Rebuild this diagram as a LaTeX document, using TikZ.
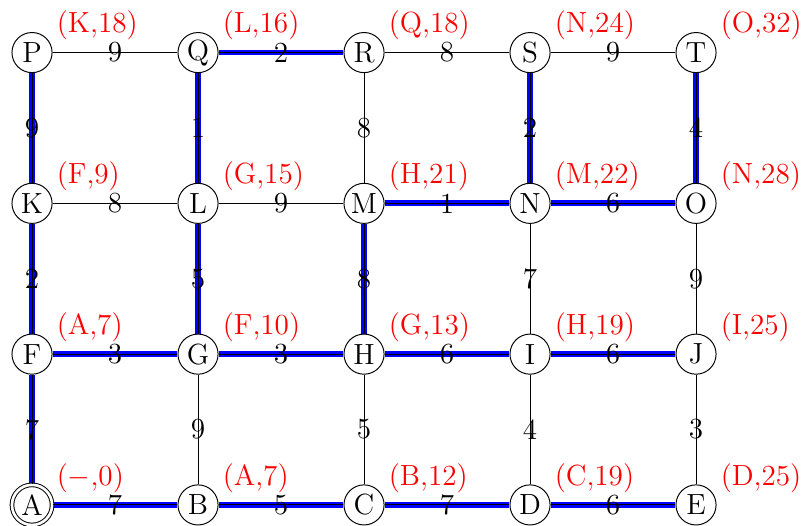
\documentclass[tikz,border=0pt]{standalone}
\usetikzlibrary{positioning, backgrounds}

\begin{document}
\begin{tikzpicture}[
    vertex/.style={draw, circle, thin, fill=white, minimum size=0.58cm, inner sep=0.5pt, font=\large},
    start/.style={vertex, double, double distance=1.1pt},
    weight/.style={inner sep=0pt, font=\large},
    dist/.style={anchor=south west, inner sep=2pt, xshift=2pt, yshift=-3pt, text=red, font=\large},
    tree/.style={line width=2.4pt, blue}
]
\useasboundingbox (-0.463, -0.304) rectangle (11.19, 7.30);

% -------------------------
% Vertices (bottom row to top row)
% -------------------------
\node[start]  (A) at (0, 0) {A};
\node[vertex] (B) at (2.4, 0) {B};
\node[vertex] (C) at (4.8, 0) {C};
\node[vertex] (D) at (7.2, 0) {D};
\node[vertex] (E) at (9.6, 0) {E};

\node[vertex] (F) at (0, 2.18) {F};
\node[vertex] (G) at (2.4, 2.18) {G};
\node[vertex] (H) at (4.8, 2.18) {H};
\node[vertex] (I) at (7.2, 2.18) {I};
\node[vertex] (J) at (9.6, 2.18) {J};

\node[vertex] (K) at (0, 4.36) {K};
\node[vertex] (L) at (2.4, 4.36) {L};
\node[vertex] (M) at (4.8, 4.36) {M};
\node[vertex] (N) at (7.2, 4.36) {N};
\node[vertex] (O) at (9.6, 4.36) {O};

\node[vertex] (P) at (0, 6.54) {P};
\node[vertex] (Q) at (2.4, 6.54) {Q};
\node[vertex] (R) at (4.8, 6.54) {R};
\node[vertex] (S) at (7.2, 6.54) {S};
\node[vertex] (T) at (9.6, 6.54) {T};

% -------------------------
% Shortest Path Tree (highlight)
% -------------------------
\begin{scope}[on background layer]
    \draw[tree] (A) -- (B);
    \draw[tree] (B) -- (C);
    \draw[tree] (C) -- (D);
    \draw[tree] (D) -- (E);
    \draw[tree] (F) -- (G);
    \draw[tree] (G) -- (H);
    \draw[tree] (H) -- (I);
    \draw[tree] (I) -- (J);
    \draw[tree] (M) -- (N);
    \draw[tree] (N) -- (O);
    \draw[tree] (Q) -- (R);
    \draw[tree] (A) -- (F);
    \draw[tree] (F) -- (K);
    \draw[tree] (K) -- (P);
    \draw[tree] (G) -- (L);
    \draw[tree] (L) -- (Q);
    \draw[tree] (H) -- (M);
    \draw[tree] (N) -- (S);
    \draw[tree] (O) -- (T);
\end{scope}

% -------------------------
% Horizontal Edges
% -------------------------
\draw[thin] (A) -- node[weight] {7} (B);
\draw[thin] (B) -- node[weight] {5} (C);
\draw[thin] (C) -- node[weight] {7} (D);
\draw[thin] (D) -- node[weight] {6} (E);

\draw[thin] (F) -- node[weight] {3} (G);
\draw[thin] (G) -- node[weight] {3} (H);
\draw[thin] (H) -- node[weight] {6} (I);
\draw[thin] (I) -- node[weight] {6} (J);

\draw[thin] (K) -- node[weight] {8} (L);
\draw[thin] (L) -- node[weight] {9} (M);
\draw[thin] (M) -- node[weight] {1} (N);
\draw[thin] (N) -- node[weight] {6} (O);

\draw[thin] (P) -- node[weight] {9} (Q);
\draw[thin] (Q) -- node[weight] {2} (R);
\draw[thin] (R) -- node[weight] {8} (S);
\draw[thin] (S) -- node[weight] {9} (T);

% -------------------------
% Vertical Edges
% -------------------------
\draw[thin] (A) -- node[weight] {7} (F);
\draw[thin] (B) -- node[weight] {9} (G);
\draw[thin] (C) -- node[weight] {5} (H);
\draw[thin] (D) -- node[weight] {4} (I);
\draw[thin] (E) -- node[weight] {3} (J);

\draw[thin] (F) -- node[weight] {2} (K);
\draw[thin] (G) -- node[weight] {5} (L);
\draw[thin] (H) -- node[weight] {8} (M);
\draw[thin] (I) -- node[weight] {7} (N);
\draw[thin] (J) -- node[weight] {9} (O);

\draw[thin] (K) -- node[weight] {9} (P);
\draw[thin] (L) -- node[weight] {1} (Q);
\draw[thin] (M) -- node[weight] {8} (R);
\draw[thin] (N) -- node[weight] {2} (S);
\draw[thin] (O) -- node[weight] {4} (T);

% -------------------------
% Predecessor and Distance Labels
% -------------------------
\node[dist] (lA) at (A.north east) {($-$,0)};
\node[dist] (lB) at (B.north east) {(A,7)};
\node[dist] (lC) at (C.north east) {(B,12)};
\node[dist] (lD) at (D.north east) {(C,19)};
\node[dist] (lE) at (E.north east) {(D,25)};

\node[dist] (lF) at (F.north east) {(A,7)};
\node[dist] (lG) at (G.north east) {(F,10)};
\node[dist] (lH) at (H.north east) {(G,13)};
\node[dist] (lI) at (I.north east) {(H,19)};
\node[dist] (lJ) at (J.north east) {(I,25)};

\node[dist] (lK) at (K.north east) {(F,9)};
\node[dist] (lL) at (L.north east) {(G,15)};
\node[dist] (lM) at (M.north east) {(H,21)};
\node[dist] (lN) at (N.north east) {(M,22)};
\node[dist] (lO) at (O.north east) {(N,28)};

\node[dist] (lP) at (P.north east) {(K,18)};
\node[dist] (lQ) at (Q.north east) {(L,16)};
\node[dist] (lR) at (R.north east) {(Q,18)};
\node[dist] (lS) at (S.north east) {(N,24)};
\node[dist] (lT) at (T.north east) {(O,32)};

\end{tikzpicture}
\end{document}
